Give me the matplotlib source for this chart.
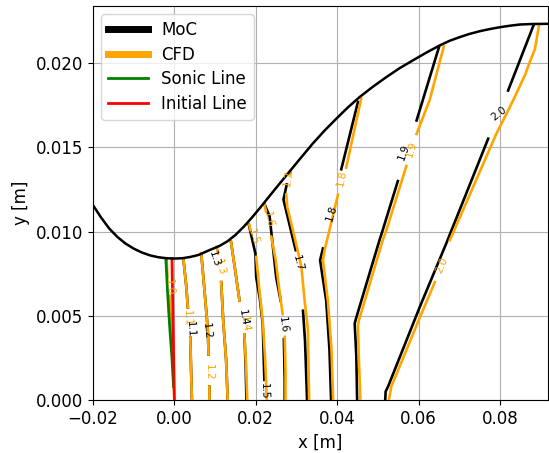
import numpy as np
import matplotlib
matplotlib.use("Agg")
import matplotlib.pyplot as plt
from matplotlib.lines import Line2D

nan = np.nan

# Nozzle wall contour
wall_x = [-0.0200, -0.0180, -0.0160, -0.0140, -0.0120, -0.0100, -0.0080, -0.0060, -0.0040, -0.0020,
          0.0000, 0.0020, 0.0040, 0.0060, 0.0086, 0.0110, 0.0130, 0.0150, 0.0170, 0.0190, 0.0210,
          0.0245, 0.0283, 0.0312, 0.0340, 0.0369, 0.0398, 0.0426, 0.0455, 0.0488, 0.0521, 0.0553,
          0.0586, 0.0619, 0.0652, 0.0676, 0.0701, 0.0725, 0.0750, 0.0775, 0.0800, 0.0825, 0.0849,
          0.0880, 0.0918]
wall_y = [0.01157, 0.01083, 0.01018, 0.00968, 0.00929, 0.00899, 0.00876, 0.00859, 0.00848, 0.00842,
          0.00840, 0.00842, 0.00850, 0.00862, 0.00890, 0.00914, 0.00942, 0.00980, 0.01028, 0.01082, 0.01140,
          0.01245, 0.01357, 0.01442, 0.01523, 0.01600, 0.01671, 0.01737, 0.01799, 0.01861, 0.01918, 0.01970,
          0.02017, 0.02063, 0.02106, 0.02133, 0.02155, 0.02174, 0.02190, 0.02203, 0.02214, 0.02223, 0.02230,
          0.02233, 0.02234]

# Sonic line and initial line
sonic_x = [-0.0021, -0.0017, -0.0012, -0.0006, -0.0002]
sonic_y = [0.0084, 0.0065, 0.0045, 0.0025, 0.0008]
init_x = [-0.0006, 0.0]
init_y = [0.0084, 0.0]

# CFD Mach contours (NaN = label gap)
cfd_10_x = [-0.0019, -0.0017, nan, -0.0012, -0.0008, -0.0004, 0.0]
cfd_10_y = [0.0084, 0.0073, nan, 0.0062, 0.0042, 0.0020, 0.0]
cfd_11_x = [0.0022, 0.0029, 0.0033, nan, 0.0039, 0.0041, 0.0043]
cfd_11_y = [0.0084, 0.0068, 0.0055, nan, 0.0037, 0.0018, 0.0]
cfd_12_x = [0.0066, 0.0074, 0.0082, 0.0084, nan, 0.0086, 0.0086]
cfd_12_y = [0.0087, 0.0065, 0.0042, 0.0027, nan, 0.0008, 0.0]
cfd_13_x = [0.0104, 0.0107, nan, 0.0115, 0.0120, 0.0127, 0.0131]
cfd_13_y = [0.0091, 0.0087, nan, 0.0070, 0.0047, 0.0024, 0.0]
cfd_14_x = [0.0139, 0.0150, 0.0160, nan, 0.0172, 0.0176, 0.0179]
cfd_14_y = [0.0094, 0.0076, 0.0059, nan, 0.0039, 0.0021, 0.0]
cfd_15_x = [0.0184, 0.0187, nan, 0.0201, 0.0209, 0.0217, 0.0223, 0.0227]
cfd_15_y = [0.0104, 0.0101, nan, 0.0085, 0.0065, 0.0047, 0.0024, 0.0]
cfd_16_x = [0.0221, 0.0225, nan, 0.0238, 0.0249, 0.0258, 0.0266, nan, 0.0271, 0.0273, 0.0273]
cfd_16_y = [0.01165, 0.0112, nan, 0.0097, 0.0083, 0.0065, 0.0051, nan, 0.00375, 0.0018, 0.0]
cfd_17_x = [0.0286, 0.0285, nan, 0.0275, 0.0277, 0.0295, 0.0312, 0.0320, 0.0328, 0.0331]
cfd_17_y = [0.0136, 0.0134, nan, 0.0122, 0.0115, 0.0097, 0.0079, 0.0059, 0.0042, 0.0]
cfd_18_x = [0.0459, 0.0422, nan, 0.0402, 0.0381, 0.0369, 0.0365, 0.0377, 0.0386, 0.0390]
cfd_18_y = [0.0179, 0.0138, nan, 0.0122, 0.0101, 0.0089, 0.0083, 0.0059, 0.0030, 0.0]
cfd_19_x = [0.0662, 0.0627, 0.0595, nan, 0.0570, 0.0521, 0.0512, 0.0453, 0.0451, 0.0453, 0.0457]
cfd_19_y = [0.0210, 0.0178, 0.0158, nan, 0.0139, 0.0101, 0.0095, 0.0047, 0.0044, 0.0026, 0.0]
cfd_20_x = [0.0896, 0.0886, 0.0873, 0.0861, 0.0853, 0.0836, 0.0816, 0.0791, 0.0677, nan,
            0.0640, 0.0603, 0.0533, 0.0527]
cfd_20_y = [0.02228, 0.02085, 0.02006, 0.01927, 0.01887, 0.01798, 0.0170, 0.01581, 0.0095, nan,
            0.0070, 0.0049, 0.0008, 0.0]

# MoC Mach contours (NaN = label gap)
moc_11_x = [0.0022, 0.0029, 0.0033, nan, 0.0039, 0.0041, 0.0043]
moc_11_y = [0.0084, 0.0068, 0.0055, nan, 0.0037, 0.0018, 0.0]
moc_12_x = [0.0066, 0.0074, 0.0082, 0.0084, nan, 0.0086, 0.0086]
moc_12_y = [0.0087, 0.0065, 0.0042, 0.0027, nan, 0.0008, 0.0]
moc_13_x = [0.0115, 0.0120, 0.0127, 0.0131]
moc_13_y = [0.0070, 0.0047, 0.0024, 0.0]
moc_14_x = [0.0139, 0.0150, 0.0160, nan, 0.0172, 0.0175, 0.0177]
moc_14_y = [0.0094, 0.0076, 0.0059, nan, 0.0039, 0.0021, 0.0]
moc_15_x = [0.0183, 0.0199, 0.0201, 0.0210, 0.0217, 0.0221]
moc_15_y = [0.0104, 0.0087, 0.0073, 0.0060, 0.0045, 0.0012]
moc_16_x = [0.0221, 0.0234, 0.0250, 0.0261, nan, 0.0269, 0.0271, 0.0271]
moc_16_y = [0.01165, 0.0109, 0.0073, 0.0059, nan, 0.0036, 0.0012, 0.0]
moc_17_x = [0.0276, 0.0268, 0.0283, 0.0298, nan, 0.0316, 0.0321, 0.0326]
moc_17_y = [0.0128, 0.0119, 0.0104, 0.0089, nan, 0.0053, 0.0035, 0.0]
moc_18_x = [0.0451, 0.0410, nan, 0.0365, 0.0358, 0.0373, 0.0381, 0.0385]
moc_18_y = [0.0177, 0.0137, nan, 0.0090, 0.0083, 0.0059, 0.0030, 0.0]
moc_19_x = [0.0650, 0.0595, nan, 0.0549, 0.0512, 0.0504, 0.0447, 0.0443, 0.0447, 0.0449]
moc_19_y = [0.02095, 0.0166, nan, 0.0130, 0.0101, 0.0095, 0.0049, 0.00455, 0.0026, 0.0]
moc_20_x = [0.0883, 0.0820, nan, 0.0771, 0.0668, 0.0603, 0.0525, 0.0519, 0.0518]
moc_20_y = [0.02229, 0.01838, nan, 0.01552, 0.0093, 0.00553, 0.0008, 0.0005, 0.0]

# Contour labels: text, x, y, rotation
cfd_label_text = ["1.0", "1.1", "1.2", "1.3", "1.4", "1.5", "1.6", "1.7", "1.8", "1.9", "2.0"]
cfd_label_x = [-0.0012, 0.00327, 0.00861, 0.01107, 0.0173, 0.01926, 0.02312, 0.02787, 0.04101, 0.05823, 0.06561]
cfd_label_y = [0.0067, 0.00486, 0.00166, 0.00789, 0.0045, 0.00968, 0.01073, 0.01316, 0.01315, 0.01492, 0.0080]
cfd_label_rot = [-86, -87, -89, -75, -82, -72, -78, 80, 77, 72, 66]

moc_label_text = ["1.1", "1.2", "1.3", "1.4", "1.5", "1.6", "1.7", "1.8", "1.9", "2.0"]
moc_label_x = [0.00386, 0.00787, 0.00984, 0.01685, 0.02214, 0.02664, 0.03033, 0.03855, 0.05646, 0.07978]
moc_label_y = [0.00421, 0.00409, 0.00836, 0.00486, 0.00053, 0.00445, 0.0081, 0.01112, 0.01472, 0.0170]
moc_label_rot = [-87, -84, -72, -80, -88, -82, -75, 72, 70, 38]

moc_lines = [(moc_11_x, moc_11_y), (moc_12_x, moc_12_y), (moc_13_x, moc_13_y), (moc_14_x, moc_14_y),
             (moc_15_x, moc_15_y), (moc_16_x, moc_16_y), (moc_17_x, moc_17_y), (moc_18_x, moc_18_y),
             (moc_19_x, moc_19_y), (moc_20_x, moc_20_y)]
cfd_lines = [(cfd_10_x, cfd_10_y), (cfd_11_x, cfd_11_y), (cfd_12_x, cfd_12_y), (cfd_13_x, cfd_13_y),
             (cfd_14_x, cfd_14_y), (cfd_15_x, cfd_15_y), (cfd_16_x, cfd_16_y), (cfd_17_x, cfd_17_y),
             (cfd_18_x, cfd_18_y), (cfd_19_x, cfd_19_y), (cfd_20_x, cfd_20_y)]

ORANGE = "#FFA500"

fig = plt.figure(figsize=(5.49, 4.53), dpi=100)
ax = fig.add_axes([0.1694, 0.117, 0.8288, 0.8698])

ax.grid(True, color="#b0b0b0", linewidth=0.8, zorder=0)
ax.set_axisbelow(True)

for xs, ys in moc_lines:
    ax.plot(xs, ys, color="black", lw=1.9, zorder=2)
for xs, ys in cfd_lines:
    ax.plot(xs, ys, color=ORANGE, lw=1.9, zorder=3)

ax.plot(sonic_x, sonic_y, color="green", lw=2, zorder=4)
ax.plot(init_x, init_y, color="red", lw=2, zorder=5)
ax.plot(wall_x, wall_y, color="black", lw=1.8, zorder=6)

for t, x, y, r in zip(cfd_label_text, cfd_label_x, cfd_label_y, cfd_label_rot):
    ax.text(x, y, t, color=ORANGE, fontsize=7.5, rotation=r, ha="center", va="center",
            rotation_mode="anchor", zorder=7)
for t, x, y, r in zip(moc_label_text, moc_label_x, moc_label_y, moc_label_rot):
    ax.text(x, y, t, color="black", fontsize=7.5, rotation=r, ha="center", va="center",
            rotation_mode="anchor", zorder=7)

ax.set_xlim(-0.02, 0.0918)
ax.set_ylim(0.0, 0.0234)
ax.set_xticks([-0.02, 0.0, 0.02, 0.04, 0.06, 0.08])
ax.set_xticklabels(["\u22120.02", "0.00", "0.02", "0.04", "0.06", "0.08"], fontsize=12)
ax.set_yticks([0.0, 0.005, 0.010, 0.015, 0.020])
ax.set_yticklabels(["0.000", "0.005", "0.010", "0.015", "0.020"], fontsize=12)
ax.set_xlabel("x [m]", fontsize=12)
ax.set_ylabel("y [m]", fontsize=12)

handles = [Line2D([], [], color="black", lw=5),
           Line2D([], [], color=ORANGE, lw=5),
           Line2D([], [], color="green", lw=2),
           Line2D([], [], color="red", lw=2)]
ax.legend(handles, ["MoC", "CFD", "Sonic Line", "Initial Line"], loc="upper left", fontsize=12,
          handlelength=2.4, labelspacing=0.4)

fig.savefig("out.png", dpi=100)
